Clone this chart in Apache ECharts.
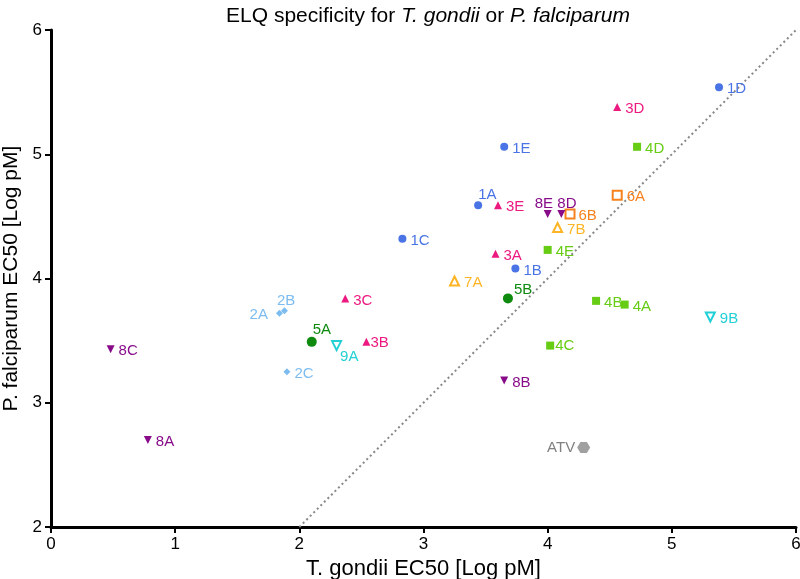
<!DOCTYPE html>
<html>
<head>
<meta charset="utf-8">
<script src="https://cdn.jsdelivr.net/npm/echarts@6/dist/echarts.min.js"></script>
<style>html,body{margin:0;padding:0;background:#fff}#chart{width:800px;height:579px}</style>
</head>
<body>
<div id="chart"></div>
<script>
// ---- data ----
const xTicks = [0, 1, 2, 3, 4, 5, 6];
const yTicks = [2, 3, 4, 5, 6];

const s1Names = ['1A', '1B', '1C', '1D', '1E'];
const s1X = [3.44, 3.74, 2.83, 5.38, 3.65];
const s1Y = [4.59, 4.08, 4.32, 5.54, 5.06];

const s2Names = ['2A', '2B', '2C'];
const s2X = [1.84, 1.88, 1.90];
const s2Y = [3.72, 3.74, 3.25];

const s3Names = ['3A', '3B', '3C', '3D', '3E'];
const s3X = [3.58, 2.54, 2.37, 4.56, 3.60];
const s3Y = [4.20, 3.49, 3.84, 5.38, 4.59];

const s4Names = ['4A', '4B', '4C', '4D', '4E'];
const s4X = [4.62, 4.39, 4.02, 4.72, 4.00];
const s4Y = [3.79, 3.82, 3.46, 5.06, 4.23];

const s5Names = ['5A', '5B'];
const s5X = [2.10, 3.68];
const s5Y = [3.49, 3.84];

const s6Names = ['6A', '6B'];
const s6X = [4.56, 4.18];
const s6Y = [4.67, 4.52];

const s7Names = ['7A', '7B'];
const s7X = [3.25, 4.08];
const s7Y = [3.98, 4.41];

const s8Names = ['8A', '8B', '8C', '8D', '8E'];
const s8X = [0.78, 3.65, 0.48, 4.11, 4.00];
const s8Y = [2.70, 3.18, 3.43, 4.52, 4.52];

const s9Names = ['9A', '9B'];
const s9X = [2.30, 5.31];
const s9Y = [3.46, 3.69];

const atvNames = ['ATV'];
const atvX = [4.29];
const atvY = [2.64];

const identityX = [2, 6];
const identityY = [2, 6];

// ---- label placement (style) ----
const labelPlace = {
  '1A': ['right', [-8, -10]], '5B': ['right', [-3, -9]], '8E': ['right', [-21, -10]],
  '8D': ['right', [-12, -10]], '2B': ['right', [-15, -10]], '2A': ['left', [-4, 2]],
  '5A': ['right', [-8, -12]], '9A': ['right', [-6, 11]], '3B': ['right', [-4, 1]],
  '4C': ['right', [-3, 0]], 'ATV': ['left', [2, 0]], '6B': ['right', [-1, 2]]
};

const FONT = "'Liberation Sans', Arial, sans-serif";

function mk(names, xs, ys) {
  return names.map((n, i) => {
    const p = labelPlace[n] || ['right', [0, 2]];
    return { name: n, value: [xs[i], ys[i]], label: { position: p[0], offset: p[1] } };
  });
}

function series(name, names, xs, ys, color, symbol, size, opts) {
  opts = opts || {};
  return {
    name: name,
    type: 'scatter',
    data: mk(names, xs, ys),
    symbol: symbol,
    symbolSize: size,
    symbolRotate: opts.rotate || 0,
    itemStyle: opts.hollow ? { color: '#fff', borderColor: color, borderWidth: 2, opacity: 1 } : { color: color, opacity: 1 },
    label: {
      show: true,
      formatter: '{b}',
      color: opts.labelColor || color,
      fontFamily: FONT,
      fontSize: 15,
      distance: 4
    },
    emphasis: { disabled: true },
    z: 3
  };
}

const hexagon = 'path://M2,0 L1,1.732 L-1,1.732 L-2,0 L-1,-1.732 L1,-1.732 Z';

const chart = echarts.init(document.getElementById('chart'), null, { renderer: 'canvas' });
chart.setOption({
  animation: false,
  backgroundColor: '#fff',
  title: {
    text: '{n|ELQ specificity for }{i|T. gondii}{n| or }{i|P. falciparum}',
    left: 423,
    textAlign: 'center',
    top: 1,
    textStyle: {
      fontWeight: 'normal',
      rich: {
        n: { fontFamily: FONT, fontSize: 21, color: '#000', fontWeight: 'normal' },
        i: { fontFamily: FONT, fontSize: 21, color: '#000', fontStyle: 'italic', fontWeight: 'normal' }
      }
    }
  },
  grid: { left: 51, right: 4, top: 30, bottom: 52, containLabel: false, outerBoundsMode: 'none' },
  xAxis: {
    type: 'value', min: 0, max: 6, interval: 1,
    name: 'T. gondii EC50 [Log pM]', nameLocation: 'middle', nameGap: 29,
    nameTextStyle: { fontFamily: FONT, fontSize: 22, color: '#000' },
    axisLine: { show: true, onZero: false, lineStyle: { color: '#000', width: 3 } },
    axisTick: { show: true, length: 6, lineStyle: { color: '#000', width: 2 } },
    axisLabel: { fontFamily: FONT, fontSize: 17, color: '#000', margin: 9,
      formatter: v => xTicks.includes(v) ? String(v) : '' },
    splitLine: { show: false }
  },
  yAxis: {
    type: 'value', min: 2, max: 6, interval: 1,
    name: 'P. falciparum EC50 [Log pM]', nameLocation: 'middle', nameGap: 28,
    nameTextStyle: { fontFamily: FONT, fontSize: 21, color: '#000' },
    axisLine: { show: true, onZero: false, lineStyle: { color: '#000', width: 3 } },
    axisTick: { show: true, length: 6, lineStyle: { color: '#000', width: 2 } },
    axisLabel: { fontFamily: FONT, fontSize: 17, color: '#000', margin: 9,
      formatter: v => yTicks.includes(v) ? String(v) : '' },
    splitLine: { show: false }
  },
  series: [
    {
      type: 'line',
      data: identityX.map((x, i) => [x, identityY[i]]),
      symbol: 'none',
      lineStyle: { color: '#888', width: 2, type: [2, 3] },
      silent: true,
      z: 1
    },
    series('1', s1Names, s1X, s1Y, '#4a74e6', 'circle', 8),
    series('2', s2Names, s2X, s2Y, '#7dbcf0', 'diamond', 7),
    series('3', s3Names, s3X, s3Y, '#ec1a80', 'triangle', 8),
    series('4', s4Names, s4X, s4Y, '#66cc14', 'rect', 8),
    series('5', s5Names, s5X, s5Y, '#0e8a0e', 'circle', 10),
    series('6', s6Names, s6X, s6Y, '#f6821e', 'rect', 9, { hollow: true }),
    series('7', s7Names, s7X, s7Y, '#fdb525', 'triangle', 9, { hollow: true }),
    series('8', s8Names, s8X, s8Y, '#880c8a', 'triangle', 8, { rotate: 180 }),
    series('9', s9Names, s9X, s9Y, '#22d0d6', 'triangle', 9, { hollow: true, rotate: 180 }),
    series('ATV', atvNames, atvX, atvY, '#a0a0a0', hexagon, [13, 11], { labelColor: '#808080' })
  ]
});
</script>
</body>
</html>
